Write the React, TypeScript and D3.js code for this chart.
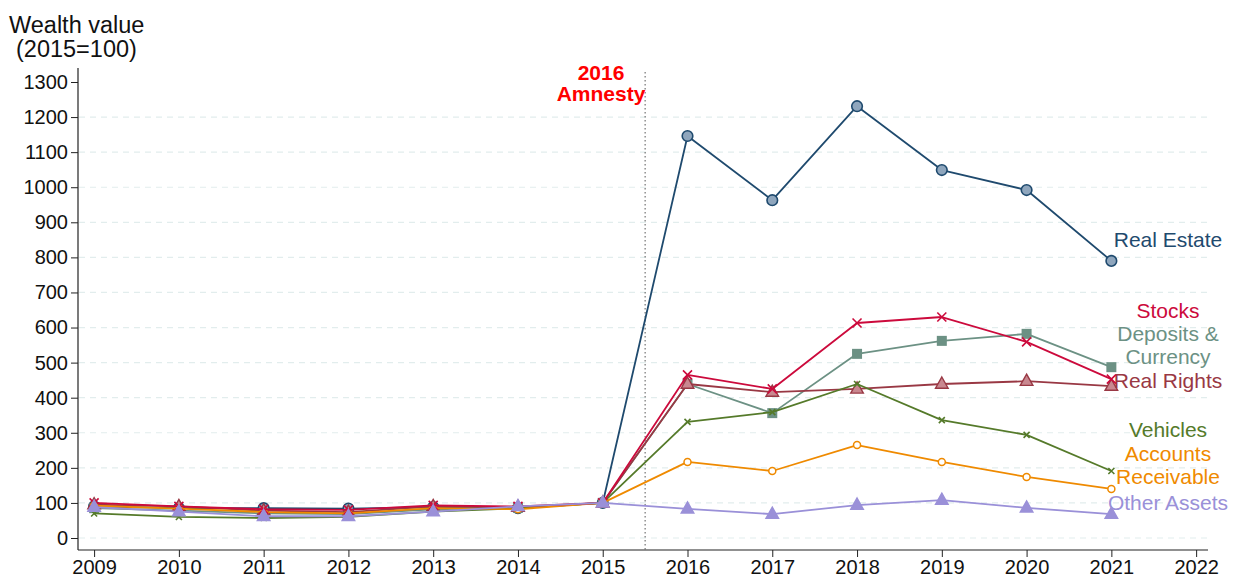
import { useEffect, useRef } from 'react';
import * as d3 from 'd3';

const years = [2009, 2010, 2011, 2012, 2013, 2014, 2015, 2016, 2017, 2018, 2019, 2020, 2021];
const yTicks = [0, 100, 200, 300, 400, 500, 600, 700, 800, 900, 1000, 1100, 1200, 1300];
const xTicks = [2009, 2010, 2011, 2012, 2013, 2014, 2015, 2016, 2017, 2018, 2019, 2020, 2021, 2022];

const realEstate = [90, 85, 85, 84, 88, 85, 100, 1146, 963, 1231, 1049, 992, 790];
const stocks = [100, 90, 82, 80, 93, 90, 100, 465, 425, 613, 630, 559, 453];
const deposits = [85, 78, 70, 68, 82, 86, 100, 439, 356, 525, 562, 582, 487];
const realRights = [95, 90, 78, 74, 90, 88, 100, 439, 416, 425, 439, 447, 433];
const vehicles = [70, 60, 57, 60, 75, 85, 100, 331, 359, 439, 336, 294, 191];
const receivables = [92, 84, 74, 70, 85, 82, 100, 217, 191, 265, 217, 174, 140];
const otherAssets = [88, 75, 62, 62, 75, 90, 100, 83, 68, 94, 108, 86, 68];

const series = [
  { name: 'Real Estate', label: ['Real Estate'], values: realEstate, color: '#1f4a6e', fill: '#8fa6bd', marker: 'circle', labelY: 240 },
  { name: 'Deposits', label: ['Deposits &', 'Currency'], values: deposits, color: '#6c9184', fill: '#6c9184', marker: 'square', labelY: 334 },
  { name: 'Real Rights', label: ['Real Rights'], values: realRights, color: '#993844', fill: '#c98890', marker: 'triangle', labelY: 381 },
  { name: 'Vehicles', label: ['Vehicles'], values: vehicles, color: '#557a2a', fill: '#557a2a', marker: 'smallx', labelY: 430 },
  { name: 'Receivable', label: ['Accounts', 'Receivable'], values: receivables, color: '#ef8a00', fill: 'none', marker: 'hollow', labelY: 454 },
  { name: 'Stocks', label: ['Stocks'], values: stocks, color: '#cc0a3c', fill: '#cc0a3c', marker: 'x', labelY: 311 },
  { name: 'Other Assets', label: ['Other Assets'], values: otherAssets, color: '#9a90d8', fill: '#9a90d8', marker: 'triangle', labelY: 503 },
];

export default function App() {
  const svgRef = useRef<SVGSVGElement>(null);
  const width = 1233;
  const height = 584;

  useEffect(() => {
    if (!svgRef.current) return;
    d3.select(svgRef.current).selectAll('*').remove();
    const svg = d3.select(svgRef.current);
    const font = 'Liberation Sans, Arial, sans-serif';

    const x = d3.scaleLinear().domain([2008.81, 2022.14]).range([78, 1208]);
    const y = d3.scaleLinear().domain([0, 1300]).range([538, 82]);
    const bottom = 550;
    const top = 68;

    // gridlines
    svg.append('g')
      .selectAll('line')
      .data(yTicks.filter(t => t < 1300))
      .enter()
      .append('line')
      .attr('x1', 79)
      .attr('x2', 1208)
      .attr('y1', d => y(d))
      .attr('y2', d => y(d))
      .attr('stroke', '#e2eded')
      .attr('stroke-width', 1.2)
      .attr('stroke-dasharray', '6,5');

    // axes
    const yAxis = svg.append('g')
      .attr('transform', 'translate(78,0)')
      .call(d3.axisLeft(y).tickValues(yTicks).tickSize(7).tickPadding(3).tickFormat(d3.format('d')));
    yAxis.select('.domain').remove();
    yAxis.selectAll('line').attr('stroke', '#222');
    yAxis.selectAll('text').attr('font-size', 20).attr('font-family', font).attr('fill', '#111');
    svg.append('line').attr('x1', 78).attr('x2', 78).attr('y1', top).attr('y2', bottom).attr('stroke', '#222').attr('stroke-width', 1.2);

    const xAxis = svg.append('g')
      .attr('transform', `translate(0,${bottom})`)
      .call(d3.axisBottom(x).tickValues(xTicks).tickSize(7).tickPadding(3).tickFormat(d3.format('d')));
    xAxis.select('.domain').remove();
    xAxis.selectAll('line').attr('stroke', '#222');
    xAxis.selectAll('text').attr('font-size', 20).attr('font-family', font).attr('fill', '#111');
    svg.append('line').attr('x1', 78).attr('x2', 1208).attr('y1', bottom).attr('y2', bottom).attr('stroke', '#222').attr('stroke-width', 1.2);

    // axis title
    svg.append('text').attr('x', 9).attr('y', 33).attr('font-size', 23.5).attr('font-family', font).attr('fill', '#111').text('Wealth value');
    svg.append('text').attr('x', 16).attr('y', 57).attr('font-size', 23.5).attr('font-family', font).attr('fill', '#111').text('(2015=100)');

    // amnesty line
    svg.append('line')
      .attr('x1', x(2015.5)).attr('x2', x(2015.5))
      .attr('y1', 72).attr('y2', bottom)
      .attr('stroke', '#555').attr('stroke-width', 1).attr('stroke-dasharray', '1.5,2.5');
    svg.append('text').attr('x', 601).attr('y', 80).attr('text-anchor', 'middle').attr('font-size', 21).attr('font-weight', 'bold').attr('font-family', font).attr('fill', '#ff0000').text('2016');
    svg.append('text').attr('x', 601).attr('y', 101).attr('text-anchor', 'middle').attr('font-size', 21).attr('font-weight', 'bold').attr('font-family', font).attr('fill', '#ff0000').text('Amnesty');

    const line = d3.line<number>().x((_, i) => x(years[i])).y(d => y(d));

    series.forEach(s => {
      const g = svg.append('g');
      g.append('path')
        .attr('d', line(s.values))
        .attr('fill', 'none')
        .attr('stroke', s.color)
        .attr('stroke-width', 1.8)
        .attr('stroke-linejoin', 'round');

      s.values.forEach((v, i) => {
        const cx = x(years[i]);
        const cy = y(v);
        if (s.marker === 'circle') {
          g.append('circle').attr('cx', cx).attr('cy', cy).attr('r', 5.3).attr('fill', s.fill).attr('stroke', s.color).attr('stroke-width', 1.6);
        } else if (s.marker === 'hollow') {
          g.append('circle').attr('cx', cx).attr('cy', cy).attr('r', 3.5).attr('fill', 'white').attr('stroke', s.color).attr('stroke-width', 1.5);
        } else if (s.marker === 'square') {
          g.append('rect').attr('x', cx - 5).attr('y', cy - 5).attr('width', 10).attr('height', 10).attr('fill', s.fill);
        } else if (s.marker === 'triangle') {
          const r = 7;
          g.append('path')
            .attr('d', `M${cx},${cy - r} L${cx + r * 0.9},${cy + r * 0.6} L${cx - r * 0.9},${cy + r * 0.6} Z`)
            .attr('fill', s.fill)
            .attr('stroke', s.color)
            .attr('stroke-width', 1.4);
        } else if (s.marker === 'x' || s.marker === 'smallx') {
          const r = s.marker === 'x' ? 4.5 : 3;
          g.append('path')
            .attr('d', `M${cx - r},${cy - r} L${cx + r},${cy + r} M${cx - r},${cy + r} L${cx + r},${cy - r}`)
            .attr('stroke', s.color)
            .attr('stroke-width', 1.6);
        }
      });

      s.label.forEach((t, j) => {
        svg.append('text')
          .attr('x', 1168)
          .attr('y', s.labelY + j * 23)
          .attr('dy', '0.35em')
          .attr('text-anchor', 'middle')
          .attr('font-size', 21)
          .attr('font-family', font)
          .attr('fill', s.color)
          .text(t);
      });
    });
  }, []);

  return <svg ref={svgRef} width={width} height={height} style={{ display: 'block', position: 'absolute', left: 0, top: 0 }} />;
}
